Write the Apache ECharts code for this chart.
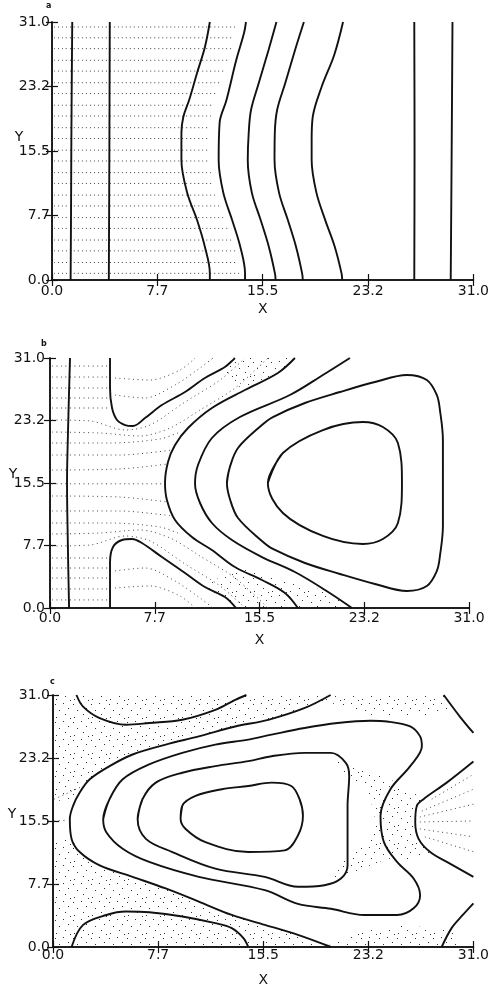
<!DOCTYPE html>
<html>
<head>
<meta charset="utf-8">
<script src="https://cdn.jsdelivr.net/npm/echarts@6/dist/echarts.min.js"></script>
<style>
  html, body { margin: 0; background: #fff; }
  #chart { width: 492px; height: 988px; }
</style>
</head>
<body>
<div id="chart"></div>
<script>
// ── axis ticks (same on every panel) ──
const tickValues = [0, 7.75, 15.5, 23.25, 31];
const tickLabels = ["0.0", "7.7", "15.5", "23.2", "31.0"];

// ── panel a: contour lines ──
const a1 = [[1.49, 31], [1.45, 23], [1.42, 15.5], [1.40, 8], [1.37, 0]];
const a2 = [[4.25, 31], [4.22, 15.5], [4.18, 0]];
const a3 = [[11.61, 31], [11.25, 28.0], [10.67, 24.87], [10.09, 21.63], [9.66, 19.59], [9.52, 17.66], [9.52, 14.42], [9.95, 10.45], [10.67, 7.21], [11.25, 3.97], [11.61, 0.84], [11.61, 0]];
const a4 = [[14.27, 31], [14.13, 29.7], [13.55, 26.4], [12.83, 21.6], [12.33, 18.9], [12.26, 14.4], [12.6, 10.5], [13.25, 7.2], [13.85, 4.0], [14.2, 0.8], [14.2, 0]];
const a5 = [[16.51, 31], [15.93, 27.64], [15.21, 23.67], [14.64, 20.43], [14.47, 17.66], [14.40, 14.42], [14.7, 10.5], [15.35, 7.2], [15.95, 4.0], [16.4, 0.8], [16.45, 0]];
const a6 = [[18.53, 31], [17.88, 27.64], [17.16, 23.67], [16.56, 20.43], [16.39, 17.66], [16.37, 14.42], [16.7, 10.5], [17.35, 7.2], [17.95, 4.0], [18.4, 0.8], [18.45, 0]];
const a7 = [[21.41, 31], [20.76, 27.04], [19.83, 23.19], [19.18, 19.59], [19.10, 16.82], [19.10, 14.42], [19.45, 10.5], [20.1, 7.2], [20.8, 4.0], [21.3, 0.8], [21.35, 0]];
const a8 = [[26.65, 31], [26.67, 15.5], [26.65, 0]];
const a9 = [[29.46, 31], [29.40, 15.5], [29.33, 0]];
// panel a: dotted flow rows (y, right end)
const rowYA = [30.4, 29.1, 27.8, 26.4, 25.1, 23.7, 22.4, 21.0, 19.7, 18.3, 17.0, 15.6, 14.3, 12.9, 11.6, 10.2, 8.9, 7.5, 6.2, 4.8, 3.5, 2.1, 0.8];
const rowEndA = [13.6, 13.4, 13.2, 13.0, 12.8, 12.5, 12.2, 11.9, 11.7, 11.6, 11.6, 11.6, 11.6, 11.7, 11.8, 12.0, 12.3, 12.6, 12.9, 13.2, 13.5, 13.7, 13.9];

// ── panel b: contour lines ──
const b1 = [[1.48, 31], [1.35, 23], [1.26, 15.5], [1.32, 8], [1.41, 0]];
const b2 = [[4.44, 31], [4.44, 27.28], [4.59, 24.8], [4.96, 23.31], [5.55, 22.69], [6.14, 22.57], [7.03, 23.56], [8.28, 25.17], [9.99, 26.78], [11.46, 28.52], [12.94, 29.88], [13.68, 31]];
const b3 = [[4.44, 0], [4.44, 5.58], [4.66, 7.56], [5.33, 8.43], [6.07, 8.56], [6.80, 8.06], [8.28, 6.32], [9.99, 4.34], [11.46, 2.60], [12.94, 1.36], [13.76, 0]];
const b4 = [[18.12, 31], [16.86, 29.14], [14.42, 27.03], [11.98, 24.80], [10.21, 22.32], [9.25, 20.21], [8.73, 18.10], [8.51, 15.5], [8.65, 13.39], [9.25, 10.91], [10.50, 8.80], [11.98, 7.19], [13.68, 5.08], [15.68, 3.47], [17.38, 1.86], [18.34, 0]];
const b5 = [[22.19, 31], [20.19, 28.89], [17.75, 26.41], [14.05, 23.68], [11.98, 21.08], [10.95, 17.73], [10.73, 15.4], [11.10, 13.02], [11.98, 10.54], [13.46, 8.43], [15.68, 6.32], [18.12, 4.46], [20.35, 2.23], [22.34, 0]];
const b6 = [[13.09, 15.5], [13.31, 17.48], [13.91, 19.84], [15.68, 22.69], [16.49, 23.68], [18.86, 25.42], [21.45, 26.78], [24.04, 28.02], [26.41, 28.89], [27.88, 28.27], [28.62, 26.41], [28.85, 24.55], [29.07, 20.83], [29.07, 15.5], [29.07, 10.17], [28.85, 6.45], [28.62, 4.59], [27.88, 2.73], [26.41, 2.11], [24.04, 2.98], [21.45, 4.22], [18.86, 5.58], [16.49, 7.32], [15.68, 8.31], [13.91, 11.16], [13.31, 13.52], [13.09, 15.5], [13.31, 17.48]];
const b7 = [[16.12, 15.5], [17.23, 19.22], [20.19, 22.07], [23.15, 23.06], [24.63, 22.44], [25.74, 20.46], [26.04, 15.5], [25.74, 10.54], [24.63, 8.56], [23.15, 7.94], [20.19, 8.93], [17.23, 11.78], [16.12, 15.5], [17.23, 19.22]];
// panel b: dotted streamlines
const flowB = [
  [[0.15, 30.0], [4.35, 30.0]],
  [[0.15, 28.64], [4.35, 28.64]],
  [[0.15, 27.28], [4.35, 27.28]],
  [[0.15, 26.04], [4.35, 26.04]],
  [[0.15, 24.8], [4.35, 24.8]],
  [[4.81, 28.52], [7.40, 28.27], [9.62, 29.51], [10.73, 31.0]],
  [[4.81, 26.41], [7.03, 26.04], [9.25, 27.65], [11.10, 29.76], [12.06, 31.0]],
  [[0.15, 23.31], [2.96, 23.19], [5.55, 22.07], [7.40, 22.69], [9.99, 25.54], [12.58, 28.27], [14.43, 31.0]],
  [[0.15, 21.82], [3.70, 21.70], [6.66, 21.33], [8.88, 22.32], [11.10, 24.55], [13.69, 27.28], [16.13, 31.0]],
  [[0.15, 20.46], [4.44, 20.46], [8.14, 20.96], [9.62, 21.82]],
  [[0.15, 18.97], [5.18, 18.97], [9.03, 19.59]],
  [[0.15, 17.11], [5.18, 17.24], [8.73, 17.86]],
  [[0.15, 15.4], [8.45, 15.4]],
  [[0.15, 13.89], [5.18, 13.76], [8.73, 13.14]],
  [[0.15, 12.03], [5.18, 12.03], [9.03, 11.41]],
  [[0.15, 10.54], [4.44, 10.54], [8.14, 10.04], [9.62, 9.18]],
  [[0.15, 9.18], [3.70, 9.30], [6.66, 9.67], [8.88, 8.68], [11.10, 6.45], [13.69, 3.72], [16.13, 0]],
  [[0.15, 7.69], [2.96, 7.81], [5.55, 8.93], [7.40, 8.31], [9.99, 5.46], [12.58, 2.73], [14.43, 0]],
  [[4.81, 4.59], [7.03, 4.96], [9.25, 3.35], [11.10, 1.24], [12.06, 0]],
  [[4.81, 2.48], [7.40, 2.73], [9.62, 1.49], [10.73, 0]],
  [[0.15, 6.2], [4.35, 6.2]],
  [[0.15, 4.96], [4.35, 4.96]],
  [[0.15, 3.72], [4.35, 3.72]],
  [[0.15, 2.36], [4.35, 2.36]],
  [[0.15, 1.0], [4.35, 1.0]],
];
// panel b: stippled patches
const stipB = [
  [[13.68, 31], [12.21, 29.26], [14.43, 27.03], [16.86, 29.14], [18.12, 31]],
  [[11.46, 2.60], [13.68, 5.08], [17.38, 3.47], [20.71, 1.98], [22.34, 0], [13.76, 0]],
];

// ── panel c: contour lines ──
const c1 = [[1.73, 31], [2.22, 29.57], [3.44, 28.16], [5.39, 27.34], [7.09, 27.55], [9.53, 27.95], [11.97, 29.17], [13.43, 30.39], [14.26, 31]];
const c2 = [[20.47, 31], [18.57, 29.41], [15.87, 27.95], [13.43, 27.13], [10.75, 25.91], [8.31, 24.90], [5.87, 23.68], [4.17, 22.25], [2.71, 20.63], [1.97, 19.00], [1.48, 17.37], [1.24, 15.74], [1.37, 13.30], [1.97, 11.68], [3.44, 10.04], [5.87, 8.63], [8.31, 7.20], [10.75, 5.58], [13.18, 3.94], [15.62, 2.72], [18.06, 1.50], [20.5, 0]];
const c3 = [[3.70, 15.74], [4.17, 18.19], [5.14, 20.63], [7.09, 22.46], [9.53, 23.88], [11.97, 24.90], [14.40, 25.51], [16.11, 26.12], [18.55, 26.94], [20.98, 27.55], [23.42, 27.83], [24.64, 27.74], [26.34, 27.13], [27.07, 25.91], [27.20, 24.69], [26.34, 22.25], [24.88, 19.41], [24.15, 16.15], [24.40, 12.90], [25.37, 10.46], [26.59, 8.42], [27.07, 6.38], [26.59, 4.76], [25.37, 3.94], [22.94, 3.94], [20.49, 4.70], [18.06, 5.30], [15.62, 6.99], [10.75, 8.63], [7.09, 10.46], [5.14, 12.08], [3.93, 14.12], [3.70, 15.74], [4.17, 18.19]];
const c4 = [[6.24, 15.74], [6.60, 18.19], [7.58, 20.22], [9.53, 21.44], [11.97, 22.25], [14.40, 22.86], [16.11, 23.47], [18.55, 23.88], [20.49, 23.88], [21.59, 22.66], [21.84, 21.03], [21.72, 17.37], [21.72, 10.04], [21.23, 8.42], [20.01, 7.60], [18.06, 7.41], [15.62, 8.63], [11.97, 9.64], [8.80, 11.68], [6.85, 13.30], [6.24, 15.74], [6.60, 18.19]];
const c5 = [[9.41, 15.74], [9.53, 17.37], [10.51, 18.59], [12.45, 19.41], [14.40, 19.81], [16.11, 20.22], [17.57, 19.81], [18.18, 18.19], [18.43, 16.15], [18.06, 13.71], [17.09, 11.88], [14.40, 11.68], [11.24, 12.90], [9.78, 14.52], [9.41, 15.74], [9.53, 17.37]];
const c6 = [[31.0, 22.82], [29.03, 20.22], [27.32, 18.19], [26.83, 17.37], [26.71, 15.34], [26.96, 13.30], [27.81, 11.68], [29.27, 10.25], [31.0, 8.63]];
const c7 = [[28.81, 31.0], [30.0, 28.35], [31.0, 26.33]];
const c8 = [[28.66, 0], [29.39, 2.32], [30.20, 3.91], [31.0, 5.37]];
const c9 = [[1.37, 0], [2.22, 2.72], [3.93, 3.94], [5.39, 4.36], [7.09, 4.27], [9.53, 3.75], [11.97, 2.93], [13.18, 2.32], [14.04, 1.10], [14.40, 0]];
// panel c: dotted streamlines
const flowC = [
  [[27.93, 18.19], [31.0, 21.24]],
  [[27.20, 16.72], [31.0, 19.41]],
  [[27.05, 15.99], [31.0, 17.57]],
  [[27.05, 15.38], [31.0, 15.50]],
  [[27.05, 14.52], [31.0, 13.55]],
  [[27.42, 13.55], [31.0, 11.72]],
  [[0.1, 18.19], [2.19, 19.78]],
  [[0.1, 15.5], [1.1, 15.6]],
];
// panel c: stippled patches
const stipC = [
  [[0, 31], [28.8, 31], [29.6, 28.8], [27, 28.4], [22.5, 28.6], [20.3, 30.2], [18.57, 29.41], [15.87, 27.95], [13.43, 27.13], [10.75, 25.91], [8.31, 24.9], [5.87, 23.68], [4.17, 22.25], [2.71, 20.63], [1.97, 19.0], [1.6, 18.0], [0, 18.0]],
  [[0, 13.5], [1.37, 13.30], [1.97, 11.68], [3.44, 10.04], [5.87, 8.63], [8.31, 7.20], [10.75, 5.58], [13.18, 3.94], [15.62, 2.72], [18.06, 1.50], [20.5, 0.2], [22.5, 1.8], [25.5, 2.6], [28.2, 2.4], [29.4, 2.3], [30.3, 0], [0, 0]],
  [[20.25, 23.31], [22.81, 21.85], [25.37, 20.26], [27.32, 18.19], [26.71, 15.34], [26.96, 13.30], [27.81, 11.68], [26.83, 10.62], [24.64, 10.86], [22.45, 9.40], [20.47, 8.18], [21.35, 10.62], [23.03, 12.69], [23.76, 15.74], [23.32, 18.80], [21.35, 21.60]],
];

// ── layout per panel ──
const grids = [
  { left: 52, top: 22, width: 430, height: 258 },
  { left: 50, top: 358, width: 419, height: 250 },
  { left: 53, top: 695, width: 424, height: 254 },
];
const panelText = [
  { t: "a", x: 46, y: 2 }, { t: "b", x: 41, y: 340 }, { t: "c", x: 50, y: 678 },
];
// "Y" sits up and to the left of the 15.5 label
const yNamePos = [[19, 137], [13, 474], [12, 814]];
const xLabelMargin = [4, 3, 1];
const yLabelMargin = [2, 5, 3];
const xNameGap = [29, 32, 33];

const INK = "#111";
const FONT = "DejaVu Sans";

// stipple tile, used as a pattern fill
function stippleTile() {
  const c = document.createElement("canvas");
  c.width = 18; c.height = 18;
  const ctx = c.getContext("2d");
  ctx.fillStyle = "#333";
  [[1, 2], [9, 1], [14, 6], [5, 8], [11, 12], [2, 15], [16, 16]]
    .forEach(([x, y]) => ctx.fillRect(x, y, 1, 1));
  return c;
}
const stipple = { image: stippleTile(), repeat: "repeat" };

const fmtTick = (v) => tickLabels[Math.round(v / 7.75)];

function axesFor(g) {
  const common = {
    gridIndex: g, type: "value", min: 0, max: 31, interval: 7.75,
    axisLine: { lineStyle: { color: INK, width: 1.5 } },
    axisTick: { inside: true, length: 6, lineStyle: { color: INK, width: 1.2 } },
    splitLine: { show: false },
  };
  const lbl = { color: INK, fontFamily: FONT, fontSize: 14, formatter: fmtTick };
  return {
    x: [
      { ...common, position: "bottom",
        axisLabel: { ...lbl, margin: xLabelMargin[g] },
        name: "X", nameLocation: "middle", nameGap: xNameGap[g],
        nameTextStyle: { color: INK, fontFamily: FONT, fontSize: 14, align: "center", verticalAlign: "middle" } },
      { ...common, position: "top", axisLabel: { show: false } },
    ],
    y: [
      { ...common, position: "left", axisLabel: { ...lbl, margin: yLabelMargin[g] } },
      { ...common, position: "right", axisLabel: { show: false } },
    ],
  };
}

function contour(g, data) {
  return {
    type: "line", xAxisIndex: g * 2, yAxisIndex: g * 2, data, smooth: 0.35,
    showSymbol: false, silent: true, z: 4, clip: true,
    lineStyle: { color: INK, width: 1.9 },
  };
}
function flow(g, data, dash) {
  return {
    type: "line", xAxisIndex: g * 2, yAxisIndex: g * 2, data, smooth: 0.3,
    showSymbol: false, silent: true, z: 2,
    lineStyle: { color: "#444", width: 1, type: dash || [1, 3.5] },
  };
}
function patch(g, poly) {
  return {
    type: "custom", xAxisIndex: g * 2, yAxisIndex: g * 2, silent: true, z: 1,
    data: [[0, 0]],
    renderItem: (params, api) => ({
      type: "polygon",
      shape: { points: poly.map((p) => api.coord(p)) },
      style: { fill: stipple, stroke: null },
    }),
  };
}

const xAxes = [], yAxes = [];
[0, 1, 2].forEach((g) => {
  const ax = axesFor(g);
  xAxes.push(...ax.x);
  yAxes.push(...ax.y);
});

const series = [];
rowYA.forEach((y, i) => series.push(flow(0, [[0.15, y], [rowEndA[i], y]], [1, 3])));
[a1, a2, a3, a4, a5, a6, a7, a8, a9].forEach((d) => series.push(contour(0, d)));
stipB.forEach((p) => series.push(patch(1, p)));
flowB.forEach((d) => series.push(flow(1, d)));
[b1, b2, b3, b4, b5, b6, b7].forEach((d) => series.push(contour(1, d)));
stipC.forEach((p) => series.push(patch(2, p)));
flowC.forEach((d) => series.push(flow(2, d)));
[c1, c2, c3, c4, c5, c6, c7, c8, c9].forEach((d) => series.push(contour(2, d)));

const chart = echarts.init(document.getElementById("chart"), null, { renderer: "canvas" });
chart.setOption({
  backgroundColor: "#fff",
  animation: false,
  grid: grids,
  xAxis: xAxes,
  yAxis: yAxes,
  graphic: [
    ...panelText.map((p) => ({
      type: "text", left: p.x, top: p.y,
      style: { text: p.t, fill: INK, font: "bold 8px " + FONT },
    })),
    ...yNamePos.map(([x, y]) => ({
      type: "text", x, y,
      style: { text: "Y", fill: INK, font: "14px " + FONT, align: "center", verticalAlign: "middle" },
    })),
  ],
  series,
});
</script>
</body>
</html>
